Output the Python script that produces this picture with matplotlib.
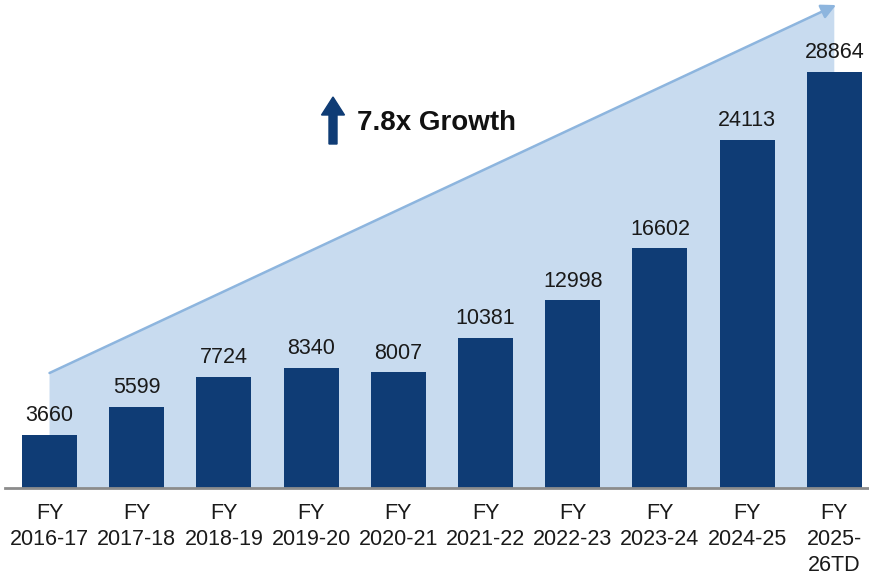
import matplotlib.pyplot as plt
import numpy as np
from matplotlib.patches import Polygon, FancyArrow
from matplotlib.transforms import IdentityTransform

plt.rcParams['font.family'] = ['Liberation Sans', 'DejaVu Sans']

# Values per financial year
years = ['FY\n2016-17', 'FY\n2017-18', 'FY\n2018-19', 'FY\n2019-20', 'FY\n2020-21',
         'FY\n2021-22', 'FY\n2022-23', 'FY\n2023-24', 'FY\n2024-25', 'FY\n2025-\n26TD']
values = [3660, 5599, 7724, 8340, 8007, 10381, 12998, 16602, 24113, 28864]
growth_label = '7.8x Growth'

navy = '#0f3c75'
fill_blue = '#c8dbef'
edge_blue = '#8db5de'

fig = plt.figure(figsize=(8.69, 5.76), dpi=100)
ax = fig.add_axes([0, 1 - 488 / 576, 1, 488 / 576])
x = np.arange(len(values))

ax.set_xlim(-0.568, 9.398)
ax.set_ylim(0, 33820)

# shaded growth wedge behind the bars
y_start, y_end = 7970, 33470
x_end = 9.02
slope = (y_end - y_start) / x_end
x_edge = 9.0
wedge = Polygon([(0, 0), (0, y_start), (x_edge, y_start + slope * x_edge), (x_edge, 0)],
                closed=True, facecolor=fill_blue, edgecolor='none', zorder=1)
ax.add_patch(wedge)
ax.annotate('', xy=(x_end, y_end), xytext=(0, y_start),
            arrowprops=dict(arrowstyle='-|>', color=edge_blue, lw=1.8,
                            mutation_scale=22, shrinkA=0, shrinkB=0),
            zorder=2)

bars = ax.bar(x, values, width=0.63, color=navy, zorder=3)
for xi, v in zip(x, values):
    ax.annotate(str(v), (xi, v), xytext=(0, 10), textcoords='offset points',
                ha='center', va='baseline', fontsize=15.5, color='#1a1a1a', zorder=4)

# baseline
ax.plot([-0.51, 9.4], [0, 0], color='#8c8c8c', lw=2, clip_on=False, zorder=4)

ax.set_xticks(x)
ax.set_xticklabels(years, fontsize=15.5, color='#1a1a1a', linespacing=1.3)
ax.tick_params(axis='x', length=0, pad=11)
ax.set_yticks([])
for s in ax.spines.values():
    s.set_visible(False)
ax.patch.set_alpha(0)

# growth callout
fig.add_artist(FancyArrow(333, 576 - 144, 0, 47, width=8, head_width=23, head_length=18,
                          length_includes_head=True, color=navy,
                          transform=IdentityTransform()))
fig.text(357 / 869, 1 - 123 / 576, growth_label, fontsize=20, fontweight='bold',
         color='#111111', ha='left', va='center')

fig.savefig('out.png', dpi=100)
